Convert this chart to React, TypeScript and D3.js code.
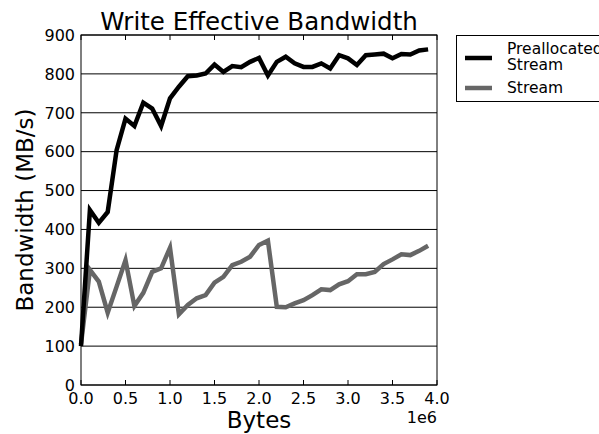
import React from 'react';
import * as d3 from 'd3';

// message sizes, in units of 1e6 bytes
const sizes = [
  0, 0.1, 0.2, 0.3, 0.4, 0.5, 0.6, 0.7, 0.8, 0.9,
  1.0, 1.1, 1.2, 1.3, 1.4, 1.5, 1.6, 1.7, 1.8, 1.9,
  2.0, 2.1, 2.2, 2.3, 2.4, 2.5, 2.6, 2.7, 2.8, 2.9,
  3.0, 3.1, 3.2, 3.3, 3.4, 3.5, 3.6, 3.7, 3.8, 3.9,
];

const preallocated = [
  100, 450, 417, 445, 604, 685, 666, 726, 711, 666,
  737, 767, 794, 796, 801, 824, 805, 820, 817, 831,
  841, 796, 831, 844, 827, 818, 818, 827, 814, 848,
  840, 823, 848, 850, 852, 840, 851, 850, 860, 863,
];

const stream = [
  105, 296, 266, 186, 253, 321, 203, 237, 291, 300,
  353, 182, 206, 223, 231, 263, 278, 308, 317, 330,
  360, 371, 201, 200, 210, 218, 231, 246, 244, 259,
  267, 285, 285, 291, 311, 323, 336, 334, 345, 358,
];

const xTicks = [0, 0.5, 1.0, 1.5, 2.0, 2.5, 3.0, 3.5, 4.0];
const yTicks = [0, 100, 200, 300, 400, 500, 600, 700, 800, 900];

const font = 'DejaVu Sans, sans-serif';

const App = () => {
  const width = 599;
  const height = 434;
  const left = 81;
  const right = 437;
  const top = 35;
  const bottom = 385;

  const x = d3.scaleLinear().domain([0, 4]).range([left, right]);
  const y = d3.scaleLinear().domain([0, 900]).range([bottom, top]);

  const line = d3
    .line<number>()
    .x((d, i) => x(sizes[i]))
    .y((d) => y(d));

  return (
    <div style={{ position: 'fixed', left: 0, top: 0 }}>
      <svg width={width} height={height} style={{ display: 'block', background: '#fff' }}>
        {/* horizontal grid */}
        {yTicks.map((t) => (
          <line key={'g' + t} x1={left} x2={right} y1={y(t)} y2={y(t)} stroke="#000" strokeWidth={1} />
        ))}

        {/* x ticks, bottom and top, pointing inward */}
        {xTicks.map((t) => (
          <g key={'x' + t}>
            <line x1={x(t)} x2={x(t)} y1={bottom} y2={bottom - 5} stroke="#000" />
            <line x1={x(t)} x2={x(t)} y1={top} y2={top + 5} stroke="#000" />
            <text x={x(t)} y={403.5} textAnchor="middle" fontFamily={font} fontSize={16} fill="#000">
              {t.toFixed(1)}
            </text>
          </g>
        ))}

        {yTicks.map((t) => (
          <text key={'y' + t} x={75} y={y(t)} dy="0.36em" textAnchor="end" fontFamily={font} fontSize={16} fill="#000">
            {t}
          </text>
        ))}

        <path d={line(stream) ?? ''} fill="none" stroke="#666666" strokeWidth={4.5} strokeLinejoin="miter" />
        <path d={line(preallocated) ?? ''} fill="none" stroke="#000" strokeWidth={4.5} strokeLinejoin="miter" />

        <rect x={left} y={top} width={right - left} height={bottom - top} fill="none" stroke="#000" strokeWidth={1} />

        <text x={(left + right) / 2} y={30} textAnchor="middle" fontFamily={font} fontSize={24.5} fill="#000">
          Write Effective Bandwidth
        </text>
        <text x={(left + right) / 2} y={428} textAnchor="middle" fontFamily={font} fontSize={23} fill="#000">
          Bytes
        </text>
        <text x={right} y={423} textAnchor="end" fontFamily={font} fontSize={16} fill="#000">
          1e6
        </text>
        <text
          transform={`translate(33,${(top + bottom) / 2}) rotate(-90)`}
          textAnchor="middle"
          fontFamily={font}
          fontSize={23}
          fill="#000"
        >
          Bandwidth (MB/s)
        </text>

        {/* legend */}
        <g>
          <rect x={456.5} y={35.5} width={160} height={66} fill="#fff" stroke="#000" strokeWidth={1} />
          <line x1={465} x2={492} y1={58} y2={58} stroke="#000" strokeWidth={4.5} />
          <text x={507} y={54} fontFamily={font} fontSize={15.5} fill="#000">Preallocated</text>
          <text x={507} y={70} fontFamily={font} fontSize={15.5} fill="#000">Stream</text>
          <line x1={465} x2={492} y1={88} y2={88} stroke="#666666" strokeWidth={4.5} />
          <text x={507} y={93} fontFamily={font} fontSize={15.5} fill="#000">Stream</text>
        </g>
      </svg>
    </div>
  );
};

export default App;
